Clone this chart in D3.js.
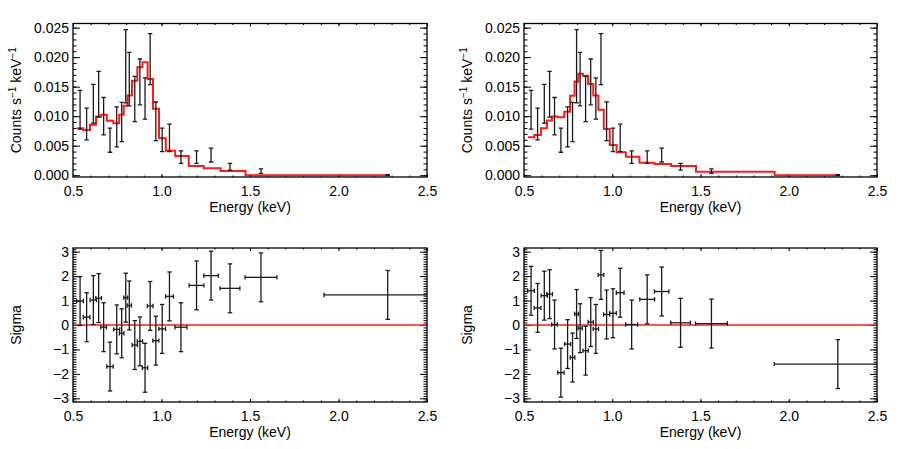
<!DOCTYPE html>
<html><head><meta charset="utf-8">
<script src="https://cdn.jsdelivr.net/npm/d3@7"></script>
<style>
body{margin:0;background:#fff}
svg{display:block}
text{font-family:"Liberation Sans",Arial,Helvetica,sans-serif;font-size:14px;fill:#000}
</style>
</head><body><svg id="c" width="900" height="449"></svg>
<script>
// ---- data ----
const energy    = [0.540,0.577,0.615,0.645,0.673,0.709,0.747,0.775,0.798,0.818,0.849,0.878,0.907,0.936,0.968,1.004,1.045,1.110,1.198,1.280,1.387,1.562,2.278];
const energyErr = [0.019,0.019,0.018,0.016,0.016,0.018,0.017,0.013,0.011,0.012,0.015,0.015,0.015,0.016,0.017,0.019,0.022,0.034,0.042,0.041,0.056,0.090,0.360];
const counts    = [0.01108,0.00868,0.01210,0.01372,0.01000,0.00593,0.00819,0.00901,0.01847,0.01629,0.01292,0.01581,0.01299,0.01966,0.00913,0.00598,0.00632,0.00307,0.00307,0.00341,0.00145,0.00069,0.00000];
const countsErr = [0.00328,0.00270,0.00328,0.00388,0.00317,0.00204,0.00340,0.00332,0.00620,0.00453,0.00383,0.00388,0.00349,0.00433,0.00327,0.00199,0.00233,0.00105,0.00105,0.00117,0.00057,0.00037,0.00008];
const modelLeft  = [0.00797,0.00768,0.00853,0.00994,0.01023,0.00921,0.00882,0.01023,0.01176,0.01351,0.01601,0.01827,0.01912,0.01630,0.01125,0.00627,0.00416,0.00326,0.00156,0.00117,0.00071,0.00000,0.00000];
const modelRight = [0.00644,0.00683,0.00797,0.00926,0.00994,0.00984,0.01074,0.01346,0.01589,0.01720,0.01685,0.01544,0.01351,0.01108,0.00785,0.00513,0.00389,0.00314,0.00212,0.00190,0.00156,0.00059,0.00000];
const sigmaLeft  = [0.98,0.32,1.02,1.10,-0.09,-1.70,-0.18,-0.34,1.12,0.80,-0.82,-0.67,-1.75,0.78,-0.64,-0.16,1.17,-0.09,1.62,2.02,1.50,1.95,1.23];
const sigmaRight = [1.40,0.70,1.20,1.26,0.02,-1.95,-0.78,-1.33,0.45,-0.13,-1.05,0.12,-0.16,2.05,0.43,0.48,1.32,0.02,1.05,1.37,0.09,0.06,-1.60];
const xTicks     = [0.5,1.0,1.5,2.0,2.5];
const countTicks = [0.000,0.005,0.010,0.015,0.020,0.025];
const sigmaTicks = [-3,-2,-1,0,1,2,3];
const xLabel = "Energy (keV)";

// ---- drawing ----
const svg = d3.select("#c");
const xMinor = d3.range(5,26).map(d=>d/10);
const cMinor = d3.range(0,26).map(d=>d/1000);
const sMinor = d3.range(-31,32).map(d=>d/10);

function axisG(g, gen, scale, vals, size, fmt, pad, tr){
  const a = gen(scale).tickValues(vals).tickSizeInner(size).tickSizeOuter(0)
    .tickPadding(pad||3).tickFormat(fmt || (()=>""));
  const ag = g.append("g").attr("transform", tr).call(a);
  ag.select(".domain").remove();
  ag.attr("font-family", null).attr("font-size", null);
  ag.selectAll("line").attr("stroke","#000").attr("stroke-width",1);
  ag.selectAll("text").attr("fill","#000");
  return ag;
}

let clipId = 0;
function panel(x0,x1,y0,y1,yDomain,yMaj,yMin,yFmt,titleX,titleNode){
  const g = svg.append("g");
  const xs = d3.scaleLinear([0.5,2.5],[x0,x1]);
  const ys = d3.scaleLinear(yDomain,[y1,y0]);
  // axes: bottom (labels), top, left (labels), right — ticks inward
  axisG(g, d3.axisBottom, xs, xTicks, -3, d3.format(".1f"), 9, `translate(0,${y1})`);
  axisG(g, d3.axisBottom, xs, xMinor, -1.5, null, 3, `translate(0,${y1})`);
  axisG(g, d3.axisTop, xs, xTicks, -3, null, 3, `translate(0,${y0})`);
  axisG(g, d3.axisTop, xs, xMinor, -1.5, null, 3, `translate(0,${y0})`);
  axisG(g, d3.axisLeft, ys, yMaj, -7, yFmt, 4, `translate(${x0},0)`);
  axisG(g, d3.axisLeft, ys, yMin, -3.5, null, 3, `translate(${x0},0)`);
  axisG(g, d3.axisRight, ys, yMaj, -7, null, 3, `translate(${x1},0)`);
  axisG(g, d3.axisRight, ys, yMin, -3.5, null, 3, `translate(${x1},0)`);
  // x title
  g.append("text").attr("x",(x0+x1)/2).attr("y",y1+35).attr("text-anchor","middle").text(xLabel);
  // y title
  const yt = g.append("text").attr("transform",`translate(${titleX},${(y0+y1)/2}) rotate(-90)`)
    .attr("text-anchor","middle");
  titleNode(yt);
  // clip
  const id = "clip"+(clipId++);
  svg.append("clipPath").attr("id",id).append("rect")
    .attr("x",x0).attr("y",y0).attr("width",x1-x0).attr("height",y1-y0);
  const plot = g.append("g").attr("clip-path",`url(#${id})`);
  return {g, plot, xs, ys, frame:()=>g.append("rect").attr("x",x0).attr("y",y0)
    .attr("width",x1-x0).attr("height",y1-y0).attr("fill","none").attr("stroke","#000").attr("stroke-width",1.3)};
}

function countsTitle(t){
  t.append("tspan").text("Counts s");
  t.append("tspan").attr("dy",-5).attr("font-size","10px").text("\u22121");
  t.append("tspan").attr("dy",5).text(" keV");
  t.append("tspan").attr("dy",-5).attr("font-size","10px").text("\u22121");
}
function sigmaTitle(t){ t.text("Sigma"); }

function countsPanel(x0,x1,model,titleX){
  const p = panel(x0,x1,23.5,177,[-0.0003,0.0257],countTicks,cMinor,d3.format(".3f"),titleX,countsTitle);
  const {plot,xs,ys} = p;
  // model as histogram steps centred on the data energies
  const pts = [];
  const n = energy.length;
  pts.push([energy[0]-(energy[1]-energy[0])/2, model[0]]);
  for(let i=0;i<n-1;i++){
    const m = (energy[i]+energy[i+1])/2;
    pts.push([m, model[i]]); pts.push([m, model[i+1]]);
  }
  pts.push([energy[n-1], model[n-1]]);
  plot.append("path").attr("d", d3.line().x(d=>xs(d[0])).y(d=>ys(d[1]))(pts))
    .attr("fill","none").attr("stroke","#ff1a1a").attr("stroke-width",2);
  const eb = plot.selectAll("g.eb").data(energy.map((e,i)=>({e,c:counts[i],s:countsErr[i]}))).join("g")
    .attr("stroke","#1a1a1a").attr("stroke-width",1.3);
  eb.append("line").attr("x1",d=>xs(d.e)).attr("x2",d=>xs(d.e)).attr("y1",d=>ys(d.c-d.s)).attr("y2",d=>ys(d.c+d.s));
  eb.append("line").attr("x1",d=>xs(d.e)-2.2).attr("x2",d=>xs(d.e)+2.2).attr("y1",d=>ys(d.c-d.s)).attr("y2",d=>ys(d.c-d.s));
  eb.append("line").attr("x1",d=>xs(d.e)-2.2).attr("x2",d=>xs(d.e)+2.2).attr("y1",d=>ys(d.c+d.s)).attr("y2",d=>ys(d.c+d.s));
  p.frame();
}

function sigmaPanel(x0,x1,sig,titleX){
  const p = panel(x0,x1,248,402,[-3.15,3.15],sigmaTicks,sMinor,d3.format("d"),titleX,sigmaTitle);
  const {plot,xs,ys} = p;
  plot.append("line").attr("x1",xs(0.5)).attr("x2",xs(2.5)).attr("y1",ys(0)).attr("y2",ys(0))
    .attr("stroke","#ff1a1a").attr("stroke-width",1.5);
  const eb = plot.selectAll("g.eb").data(energy.map((e,i)=>({e,w:energyErr[i],s:sig[i]}))).join("g")
    .attr("stroke","#1a1a1a").attr("stroke-width",1.3);
  eb.append("line").attr("x1",d=>xs(d.e)).attr("x2",d=>xs(d.e)).attr("y1",d=>ys(d.s-1)).attr("y2",d=>ys(d.s+1));
  eb.append("line").attr("x1",d=>xs(d.e)-2.2).attr("x2",d=>xs(d.e)+2.2).attr("y1",d=>ys(d.s-1)).attr("y2",d=>ys(d.s-1));
  eb.append("line").attr("x1",d=>xs(d.e)-2.2).attr("x2",d=>xs(d.e)+2.2).attr("y1",d=>ys(d.s+1)).attr("y2",d=>ys(d.s+1));
  eb.append("line").attr("x1",d=>xs(d.e-d.w)).attr("x2",d=>xs(d.e+d.w)).attr("y1",d=>ys(d.s)).attr("y2",d=>ys(d.s));
  eb.append("line").attr("x1",d=>xs(d.e-d.w)).attr("x2",d=>xs(d.e-d.w)).attr("y1",d=>ys(d.s)-2.2).attr("y2",d=>ys(d.s)+2.2);
  eb.append("line").attr("x1",d=>xs(d.e+d.w)).attr("x2",d=>xs(d.e+d.w)).attr("y1",d=>ys(d.s)-2.2).attr("y2",d=>ys(d.s)+2.2);
  p.frame();
}

countsPanel(73,427,modelLeft,21);
countsPanel(524,877,modelRight,472);
sigmaPanel(73,427,sigmaLeft,21);
sigmaPanel(524,877,sigmaRight,472);
</script>
</body></html>
